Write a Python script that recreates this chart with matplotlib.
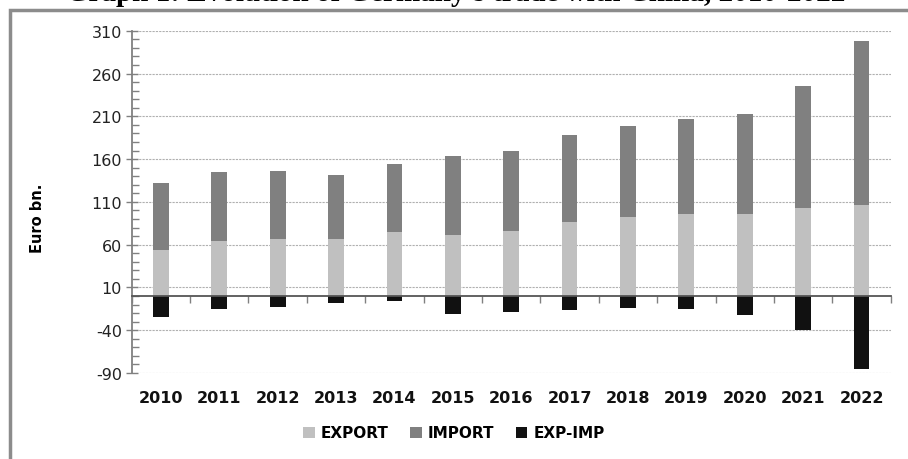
#!/usr/bin/env python

import numpy as np
from matplotlib import pyplot as plt
from matplotlib.patches import Rectangle
from matplotlib.ticker import MultipleLocator, FixedLocator, NullFormatter

# German trade with China, Euro bn.
years = ['2010', '2011', '2012', '2013', '2014', '2015', '2016',
         '2017', '2018', '2019', '2020', '2021', '2022']
export = [53.5, 64.5, 66.6, 66.7, 74.2, 71.1, 75.6, 86.1, 92.8, 95.9, 95.8, 103.3, 106.4]
imports = [78.4, 80.0, 79.0, 75.0, 80.0, 92.7, 94.4, 102.2, 106.4, 110.7, 117.0, 142.6, 192.0]
exp_imp = [-24.1, -15.6, -12.5, -8.2, -5.8, -20.6, -18.7, -16.7, -13.6, -14.8, -21.8, -39.3, -84.8]

title = "Graph 1: Evolution of Germany's trade with China, 2010-2022"

plt.rcParams['font.family'] = ['DejaVu Sans']
plt.rcParams['axes.unicode_minus'] = False

fig = plt.figure(figsize=(9.08, 4.6), dpi=100)
ax = fig.add_axes([0.145, 0.187, 0.836, 0.744])

x = np.arange(len(years))
w = 0.27
ax.bar(x, export, w, color='#c0c0c0', label='EXPORT', zorder=3)
ax.bar(x, imports, w, bottom=export, color='#808080', label='IMPORT', zorder=3)
ax.bar(x, exp_imp, w, color='#111111', label='EXP-IMP', zorder=3)

ax.set_xlim(-0.5, len(years) - 0.5)
ax.set_ylim(-90, 310)

# y axis: majors every 50 from -90, minors every 10
ax.yaxis.set_major_locator(FixedLocator(np.arange(-90, 311, 50)))
ax.yaxis.set_minor_locator(MultipleLocator(10))
ax.tick_params(axis='y', which='major', direction='inout', length=8, width=1,
               color='#808080', labelsize=11.5, labelcolor='#222222', pad=3)
ax.tick_params(axis='y', which='minor', direction='in', length=5, width=1,
               color='#808080')
ax.grid(axis='y', which='major', color='#b0b0b0', linestyle=(0, (2, 1)),
        linewidth=0.8, zorder=0)

# horizontal axis line at zero with ticks between categories
ax.spines['bottom'].set_position(('data', 0))
ax.spines['bottom'].set_color('#555555')
ax.spines['bottom'].set_linewidth(1.3)
ax.spines['bottom'].set_zorder(4)
ax.xaxis.set_major_locator(FixedLocator(np.arange(-0.5, len(years), 1.0)))
ax.xaxis.set_major_formatter(NullFormatter())
ax.tick_params(axis='x', which='major', direction='out', length=5, width=1,
               color='#808080')

ax.spines['left'].set_color('#808080')
ax.spines['left'].set_linewidth(1.3)
ax.spines['top'].set_visible(False)
ax.spines['right'].set_visible(False)

# year labels below the plot area
sec = ax.secondary_xaxis('bottom')
sec.set_xticks(x)
sec.set_xticklabels(years, fontweight='bold', fontsize=11.5, color='#111111')
sec.tick_params(length=0, pad=12)
sec.spines['bottom'].set_visible(False)

ax.set_ylabel('Euro bn.', fontweight='bold', fontsize=10.5)
ax.yaxis.set_label_coords(-0.114, 0.456)

leg = fig.legend(loc='center', bbox_to_anchor=(0.5, 1 - 434 / 460), ncol=3,
                 frameon=False, prop={'weight': 'bold', 'size': 11},
                 handlelength=0.75, handleheight=0.75, handletextpad=0.4,
                 columnspacing=1.4)

# frame around the figure
fig.patches.append(Rectangle((10 / 908, -0.1), 1.2, 1.1 - 11 / 460,
                             transform=fig.transFigure, fill=False,
                             edgecolor='#8c8c8c', linewidth=2.5))

fig.text(66 / 908, 1 - 1 / 460, title, family='Liberation Serif',
         fontweight='bold', fontsize=21, ha='left', va='baseline')

plt.savefig('out.png', dpi=100)
plt.close()
